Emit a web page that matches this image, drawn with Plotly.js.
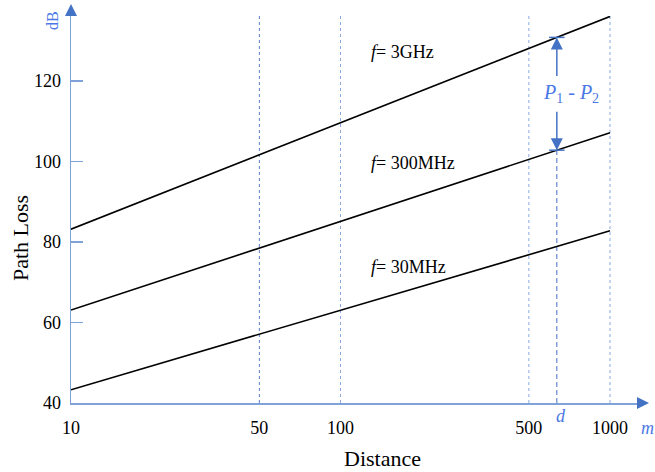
<!DOCTYPE html>
<html>
<head>
<meta charset="utf-8">
<script src="https://cdn.plot.ly/plotly-3.0.1.min.js"></script>
<style>html,body{margin:0;padding:0;background:#fff;}#chart{width:655px;height:472px;}</style>
</head>
<body>
<div id="chart"></div>
<script>
// ---- data ----
const distance = [10, 1000];                 // m
const loss3GHz = [83.2, 136.1];              // dB
const loss300MHz = [63.1, 107.2];            // dB
const loss30MHz = [43.3, 82.8];              // dB
const lineLabels = ['<i>f</i>= 3GHz', '<i>f</i>= 300MHz', '<i>f</i>= 30MHz'];
const xTickVals = [10, 50, 100, 500, 1000];
const xTickText = ['10', '50', '100', '500', '1000'];
const yTickVals = [40, 60, 80, 100, 120];
const yTickText = ['40', '60', '80', '100', '120'];
const gridDistances = [50, 100, 500, 1000];
const dDistance = 635;
const yRange = [40, 136.2];
const xRangeLog = [1, 3.1002];

// ---- styling ----
const FONT = 'Liberation Serif, Times New Roman, serif';
const AXIS = '#7fa3d9';
const BLUE = '#4472c4';
const TEXTBLUE = '#4a78e6';

function interpLog(xs, ys, x) {
  const t = (Math.log10(x) - Math.log10(xs[0])) / (Math.log10(xs[1]) - Math.log10(xs[0]));
  return ys[0] + t * (ys[1] - ys[0]);
}
const topAtD = interpLog(distance, loss3GHz, dDistance);
const midAtD = interpLog(distance, loss300MHz, dDistance);

const traces = [];
// vertical dotted guide lines
gridDistances.forEach((g, i) => {
  traces.push({x: [g, g], y: yRange, mode: 'lines', hoverinfo: 'skip', showlegend: false,
    line: {color: i === 0 ? '#5a7fc8' : '#8aa9dd', width: 1, dash: 'dot'}});
});
// d dashed line
traces.push({x: [dDistance, dDistance], y: [yRange[0], midAtD], mode: 'lines', showlegend: false,
  line: {color: BLUE, width: 1, dash: '5px,3px'}});
// path loss lines
[loss3GHz, loss300MHz, loss30MHz].forEach(s => {
  traces.push({x: distance, y: s, mode: 'lines', showlegend: false,
    line: {color: '#000', width: 1.6}});
});
// tick bars at arrow tips
traces.push({x: [dDistance, dDistance], y: [topAtD, midAtD], mode: 'markers', showlegend: false,
  marker: {symbol: 'line-ew', size: 11, line: {color: BLUE, width: 1.5}}});

const px2paperX = px => (px - 71) / 566;
const px2paperY = py => (403 - py) / 387;

function label(x, y, text, font, extra) {
  return Object.assign({xref: 'paper', yref: 'paper', x: x, y: y, xanchor: 'center', yanchor: 'middle',
    showarrow: false, text: text, font: font}, extra || {});
}

const annotations = [
  {xref: 'x', yref: 'y', x: Math.log10(dDistance), y: topAtD, ax: 0, ay: 40, text: '',
   showarrow: true, arrowhead: 2, arrowsize: 1.6, arrowwidth: 1.5, arrowcolor: BLUE, standoff: 0},
  {xref: 'x', yref: 'y', x: Math.log10(dDistance), y: midAtD, ax: 0, ay: -40, text: '',
   showarrow: true, arrowhead: 2, arrowsize: 1.6, arrowwidth: 1.5, arrowcolor: BLUE, standoff: 0},
  {xref: 'x', yref: 'y', x: Math.log10(dDistance), xshift: 14, y: (topAtD + midAtD) / 2, xanchor: 'center', yanchor: 'middle',
   bgcolor: '#ffffff', borderpad: 0, showarrow: false,
   text: '<i>P</i><sub>1</sub> - <i>P</i><sub>2</sub>', font: {family: FONT, size: 20, color: TEXTBLUE}},
  label(px2paperX(369), px2paperY(52), lineLabels[0], {family: FONT, size: 18, color: '#000'}, {xanchor: 'left'}),
  label(px2paperX(369), px2paperY(163), lineLabels[1], {family: FONT, size: 18, color: '#000'}, {xanchor: 'left'}),
  label(px2paperX(369), px2paperY(267), lineLabels[2], {family: FONT, size: 18, color: '#000'}, {xanchor: 'left'}),
  label(px2paperX(53), px2paperY(21), 'dB', {family: FONT, size: 16, color: TEXTBLUE}, {textangle: -90}),
  label(px2paperX(647), px2paperY(428), '<i>m</i>', {family: FONT, size: 18, color: TEXTBLUE}),
  {xref: 'x', yref: 'paper', x: Math.log10(dDistance), xshift: 4, y: px2paperY(416), xanchor: 'center', yanchor: 'middle',
   showarrow: false, text: '<i>d</i>', font: {family: FONT, size: 18, color: TEXTBLUE}},
  label(px2paperX(382), px2paperY(458), 'Distance', {family: FONT, size: 22, color: '#000'}),
  label(px2paperX(20), px2paperY(238), 'Path Loss', {family: FONT, size: 22, color: '#000'}, {textangle: -90})
];

const shapes = [
  // y-axis arrow head
  {type: 'path', xref: 'paper', yref: 'paper', fillcolor: BLUE, line: {width: 0},
   path: `M ${px2paperX(65)} ${px2paperY(16)} L ${px2paperX(77)} ${px2paperY(16)} L ${px2paperX(71)} ${px2paperY(4)} Z`},
  // x-axis extension + arrow head
  {type: 'line', xref: 'paper', yref: 'paper', x0: 1, x1: px2paperX(640), y0: 0, y1: 0, line: {color: AXIS, width: 1.5}},
  {type: 'path', xref: 'paper', yref: 'paper', fillcolor: BLUE, line: {width: 0},
   path: `M ${px2paperX(637)} ${px2paperY(397)} L ${px2paperX(637)} ${px2paperY(409)} L ${px2paperX(649)} ${px2paperY(403)} Z`}
];

const layout = {
  width: 655, height: 472,
  margin: {l: 71, r: 18, t: 16, b: 69, pad: 0},
  paper_bgcolor: '#fff', plot_bgcolor: '#fff',
  showlegend: false,
  font: {family: FONT, size: 18, color: '#000'},
  xaxis: {type: 'log', range: xRangeLog, showline: true, linecolor: AXIS, linewidth: 1.5,
    showgrid: false, zeroline: false, tickmode: 'array', tickvals: xTickVals, ticktext: xTickText,
    ticks: '', ticklabelstandoff: 8, tickfont: {family: FONT, size: 18, color: '#000'}},
  yaxis: {range: yRange, showline: true, linecolor: AXIS, linewidth: 1.5,
    showgrid: false, zeroline: false, tickmode: 'array', tickvals: yTickVals, ticktext: yTickText,
    ticks: 'inside', ticklen: 12, tickcolor: AXIS, tickwidth: 1.5, ticklabelstandoff: 5,
    tickfont: {family: FONT, size: 18, color: '#000'}},
  annotations: annotations,
  shapes: shapes
};

Plotly.newPlot('chart', traces, layout, {displayModeBar: false, staticPlot: true});
</script>
</body>
</html>
